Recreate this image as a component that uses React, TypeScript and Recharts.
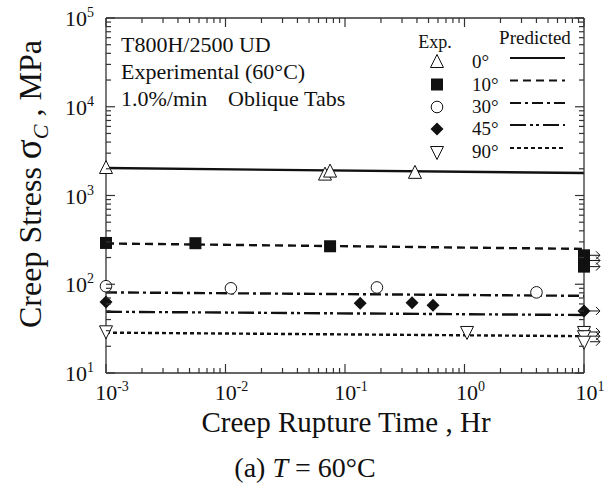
import { ComposedChart, Line, Scatter, XAxis, YAxis } from 'recharts';

const FONT = '"Liberation Serif", "Times New Roman", Times, serif';
const INK = '#111';
const AXIS = '#333';

// axis ticks
const xMajor = [0.001, 0.01, 0.1, 1, 10];
const yMajor = [10, 100, 1000, 10000, 100000];
const minorSteps = [2, 3, 4, 5, 6, 7, 8, 9];

const withMinor = (majors: number[]) => {
  const out: number[] = [];
  majors.forEach((m, i) => {
    out.push(m);
    if (i < majors.length - 1) minorSteps.forEach((s) => out.push(Number((m * s).toPrecision(3))));
  });
  return out;
};
const xTicks = withMinor(xMajor);
const yTicks = withMinor(yMajor);

// experimental points (runout = arrow, specimen did not fail)
const exp0 = [
  { x: 0.001, y: 2040 },
  { x: 0.068, y: 1720 },
  { x: 0.075, y: 1860 },
  { x: 0.385, y: 1800 },
];
const exp10 = [
  { x: 0.001, y: 292 },
  { x: 0.0056, y: 290 },
  { x: 0.075, y: 268 },
  { x: 10, y: 212, runout: true },
  { x: 10, y: 185, runout: true },
  { x: 10, y: 158, runout: true },
];
const exp30 = [
  { x: 0.001, y: 95 },
  { x: 0.0111, y: 90 },
  { x: 0.185, y: 92 },
  { x: 4.0, y: 81 },
];
const exp45 = [
  { x: 0.001, y: 63 },
  { x: 0.134, y: 61 },
  { x: 0.364, y: 62 },
  { x: 0.545, y: 58 },
  { x: 10, y: 50, runout: true },
];
const exp90 = [
  { x: 0.001, y: 29.5 },
  { x: 1.05, y: 29 },
  { x: 10, y: 29, runout: true },
  { x: 10, y: 26, runout: true },
  { x: 10, y: 22.5, runout: true },
];

// predicted curves
const pred0 = [{ x: 0.001, y: 2040 }, { x: 10, y: 1790 }];
const pred10 = [{ x: 0.001, y: 288 }, { x: 10, y: 250 }];
const pred30 = [{ x: 0.001, y: 81 }, { x: 10, y: 74 }];
const pred45 = [{ x: 0.001, y: 49 }, { x: 10, y: 45 }];
const pred90 = [{ x: 0.001, y: 28.5 }, { x: 10, y: 26 }];

const angles = ['0°', '10°', '30°', '45°', '90°'];
const dashes = ['', '8 5', '11 4 3 4', '16 4 3 3 3 4', '4 3'];

type Kind = 'tri' | 'square' | 'circle' | 'diamond' | 'triDown';
const kinds: Kind[] = ['tri', 'square', 'circle', 'diamond', 'triDown'];

function Marker({ kind, cx, cy }: { kind: Kind; cx: number; cy: number }) {
  const s = 6.5;
  switch (kind) {
    case 'tri':
      return <polygon points={`${cx},${cy - s - 1} ${cx - s},${cy + s - 1} ${cx + s},${cy + s - 1}`} fill="#fff" stroke={INK} strokeWidth={1} />;
    case 'triDown':
      return <polygon points={`${cx},${cy + s + 1} ${cx - s},${cy - s + 1} ${cx + s},${cy - s + 1}`} fill="#fff" stroke={INK} strokeWidth={1} />;
    case 'square':
      return <rect x={cx - 6} y={cy - 6} width={12} height={12} fill={INK} />;
    case 'circle':
      return <circle cx={cx} cy={cy} r={5.8} fill="#fff" stroke={INK} strokeWidth={1} />;
    default:
      return <polygon points={`${cx},${cy - s} ${cx + s},${cy} ${cx},${cy + s} ${cx - s},${cy}`} fill={INK} />;
  }
}

const makeShape = (kind: Kind) => (props: any) => {
  const { cx, cy, payload } = props;
  return (
    <g>
      <Marker kind={kind} cx={cx} cy={cy} />
      {payload?.runout && (
        <g stroke={INK} strokeWidth={1} fill="none">
          <line x1={cx + 6} y1={cy} x2={cx + 16} y2={cy} />
          <polyline points={`${cx + 12},${cy - 4} ${cx + 16},${cy} ${cx + 12},${cy + 4}`} />
        </g>
      )}
    </g>
  );
};

const isMajor = (v: number) => Math.abs(Math.log10(v) - Math.round(Math.log10(v))) < 1e-6;

const BottomTick = (props: any) => {
  const { x, y, payload } = props;
  const major = isMajor(payload.value);
  const e = Math.round(Math.log10(payload.value));
  return (
    <g>
      <line x1={x} y1={y} x2={x} y2={y - (major ? 9 : 5)} stroke={AXIS} strokeWidth={1.2} />
      {major && (
        <text x={x + 6} y={y + 27} textAnchor="middle" fontFamily={FONT} fontSize={22} fill={INK}>
          10<tspan dy={-9} fontSize={14}>{e}</tspan>
        </text>
      )}
    </g>
  );
};

const TopTick = (props: any) => {
  const { x, y, payload } = props;
  const major = isMajor(payload.value);
  return <line x1={x} y1={y} x2={x} y2={y + (major ? 9 : 5)} stroke={AXIS} strokeWidth={1.2} />;
};

const LeftTick = (props: any) => {
  const { x, y, payload } = props;
  const major = isMajor(payload.value);
  const e = Math.round(Math.log10(payload.value));
  return (
    <g>
      <line x1={x} y1={y} x2={x + (major ? 9 : 5)} y2={y} stroke={AXIS} strokeWidth={1.2} />
      {major && (
        <text x={x - 12} y={y + 8} textAnchor="end" fontFamily={FONT} fontSize={22} fill={INK}>
          10<tspan dy={-9} fontSize={14}>{e}</tspan>
        </text>
      )}
    </g>
  );
};

const RightTick = (props: any) => {
  const { x, y, payload } = props;
  const major = isMajor(payload.value);
  return <line x1={x} y1={y} x2={x - (major ? 9 : 5)} y2={y} stroke={AXIS} strokeWidth={1.2} />;
};

const legendRows = [62, 84.5, 107, 129, 152];

export default function App() {
  const preds = [pred0, pred10, pred30, pred45, pred90];
  const exps = [exp0, exp10, exp30, exp45, exp90];
  return (
    <div style={{ position: 'absolute', left: 0, top: 0, width: 606, height: 487, background: '#fff' }}>
      <ComposedChart width={606} height={487} margin={{ top: 17, right: 21, bottom: 113, left: 105 }}>
        <XAxis
          xAxisId={0}
          dataKey="x"
          type="number"
          scale="log"
          domain={[0.001, 10]}
          ticks={xTicks}
          interval={0}
          height={1}
          tickSize={0}
          tickMargin={0}
          tick={<BottomTick />}
          axisLine={{ stroke: AXIS, strokeWidth: 1.3 }}
        />
        <XAxis
          xAxisId="top"
          orientation="top"
          dataKey="x"
          type="number"
          scale="log"
          domain={[0.001, 10]}
          allowDataOverflow
          ticks={xTicks}
          interval={0}
          height={1}
          tickSize={0}
          tickMargin={0}
          tick={<TopTick />}
          axisLine={{ stroke: AXIS, strokeWidth: 1.3 }}
        />
        <YAxis
          yAxisId={0}
          dataKey="y"
          type="number"
          scale="log"
          domain={[10, 100000]}
          ticks={yTicks}
          interval={0}
          width={1}
          tickSize={0}
          tickMargin={0}
          tick={<LeftTick />}
          axisLine={{ stroke: AXIS, strokeWidth: 1.3 }}
        />
        <YAxis
          yAxisId="right"
          orientation="right"
          dataKey="y"
          type="number"
          scale="log"
          domain={[10, 100000]}
          allowDataOverflow
          ticks={yTicks}
          interval={0}
          width={1}
          tickSize={0}
          tickMargin={0}
          tick={<RightTick />}
          axisLine={{ stroke: AXIS, strokeWidth: 1.3 }}
        />
        {preds.map((d, i) => (
          <Line
            key={`p${i}`}
            data={d}
            dataKey="y"
            stroke={INK}
            strokeWidth={2.4}
            strokeDasharray={dashes[i] || undefined}
            dot={false}
            activeDot={false}
            isAnimationActive={false}
          />
        ))}
        {exps.map((d, i) => (
          <Scatter key={`e${i}`} data={d} dataKey="y" shape={makeShape(kinds[i])} isAnimationActive={false} />
        ))}
      </ComposedChart>
      <svg width={606} height={487} style={{ position: 'absolute', left: 0, top: 0, pointerEvents: 'none' }}>
        <g fontFamily={FONT} fill={INK}>
          <text x={121} y={52} fontSize={22}>T800H/2500 UD</text>
          <text x={121} y={79} fontSize={22}>Experimental (60°C)</text>
          <text x={121} y={106} fontSize={22}>1.0%/min</text>
          <text x={228} y={106} fontSize={22}>Oblique Tabs</text>

          <text x={435} y={48} fontSize={18} textAnchor="middle">Exp.</text>
          <text x={535} y={44} fontSize={19} textAnchor="middle">Predicted</text>
          {angles.map((a, i) => (
            <g key={a}>
              <Marker kind={kinds[i]} cx={437} cy={legendRows[i]} />
              <text x={472} y={legendRows[i] + 6} fontSize={19}>{a}</text>
              <line
                x1={510}
                x2={565}
                y1={legendRows[i] - 4}
                y2={legendRows[i] - 4}
                stroke={INK}
                strokeWidth={2}
                strokeDasharray={dashes[i] || undefined}
              />
            </g>
          ))}

          <text x={346} y={432} fontSize={29} textAnchor="middle">Creep Rupture Time , Hr</text>
          <text x={305} y={477} fontSize={28} textAnchor="middle">
            (a) <tspan fontStyle="italic">T</tspan> = 60°C
          </text>
          <text transform="translate(41,184) rotate(-90)" fontSize={32} textAnchor="middle">
            Creep Stress <tspan fontSize={37}>σ</tspan>
            <tspan fontSize={22} fontStyle="italic" dy={7}>C</tspan>
            <tspan dy={-7}> , MPa</tspan>
          </text>
        </g>
      </svg>
    </div>
  );
}
